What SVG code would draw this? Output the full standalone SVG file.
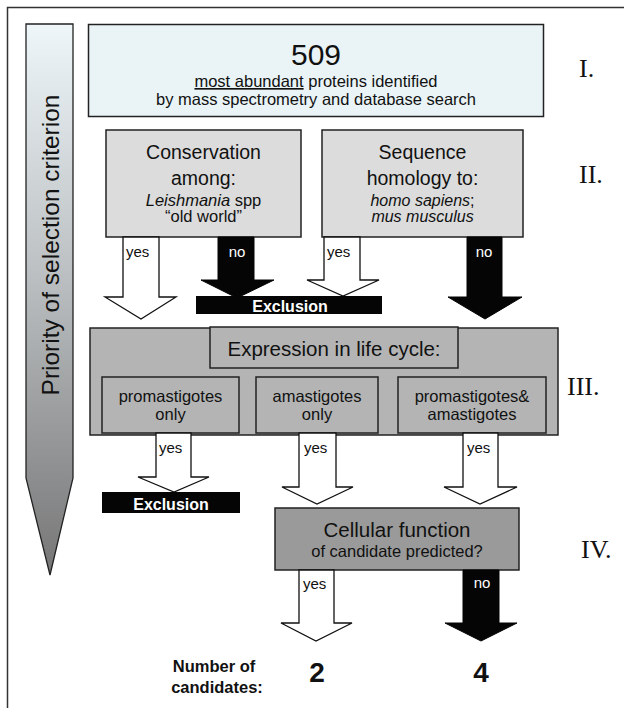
<svg xmlns="http://www.w3.org/2000/svg" width="624" height="708" viewBox="0 0 624 708">
<style>
.t{font-family:"Liberation Sans",Arial,sans-serif;fill:#111}
.c{text-anchor:middle}
.i{font-style:italic}
.b{font-weight:bold}
.box{stroke:#222;stroke-width:1.5}
.wa{fill:#fff;stroke:#111;stroke-width:1.3;stroke-linejoin:miter}
.ba{fill:#050505;stroke:#050505;stroke-width:1}
.lbl{font-size:15px}
.rom{font-family:"Liberation Serif","Times New Roman",serif;font-size:26px;fill:#111}
.excl{fill:#050505}
.wt{fill:#fff}
</style>
<defs>
<linearGradient id="prio" x1="0" y1="24" x2="0" y2="575" gradientUnits="userSpaceOnUse">
<stop offset="0" stop-color="#eef6f9"/>
<stop offset="0.45" stop-color="#bcc0c2"/>
<stop offset="1" stop-color="#767676"/>
</linearGradient>
</defs>
<path d="M7.5,708 V7.5 H624" fill="none" stroke="#333" stroke-width="1.5"/>
<g id="priority">
<path d="M26,24 H73 V478 L50,575 L26,478 Z" fill="url(#prio)" stroke="#222" stroke-width="1.3"/>
<text class="t" font-size="24.5" transform="translate(59,245) rotate(-90)" text-anchor="middle">Priority of selection criterion</text>
</g>
<g id="n509">
<rect class="box" x="88.5" y="24.5" width="455" height="92" fill="#eaf4f7"/>
<text class="t c" x="316" y="65" font-size="30">509</text>
<text class="t c" x="316" y="87" font-size="16.5"><tspan text-decoration="underline">most abundant</tspan> proteins identified</text>
<text class="t c" x="316" y="105" font-size="16.5">by mass spectrometry and database search</text>
</g>
<g id="conservation">
<rect class="box" x="106" y="130" width="195" height="107" fill="#dcdcdc"/>
<text class="t c" x="203.5" y="159" font-size="19.5">Conservation</text>
<text class="t c" x="203.5" y="185" font-size="19.5">among:</text>
<text class="t c" x="203.5" y="206" font-size="16.5"><tspan class="i">Leishmania</tspan> spp</text>
<text class="t c" x="203.5" y="222" font-size="16.5">“old world”</text>
</g>
<g id="homology">
<rect class="box" x="322" y="130" width="201" height="107" fill="#dcdcdc"/>
<text class="t c" x="422.5" y="159" font-size="19.5">Sequence</text>
<text class="t c" x="422.5" y="185" font-size="19.5">homology to:</text>
<text class="t c" x="422.5" y="206" font-size="16"><tspan class="i">homo sapiens</tspan>;</text>
<text class="t c i" x="422.5" y="222" font-size="16">mus musculus</text>
</g>
<g id="expression">
<rect class="box" x="90" y="328" width="468" height="107" fill="#b4b4b4" stroke-width="1.2"/>
<rect class="box" x="210" y="327" width="248" height="41" fill="#b4b4b4"/>
<text class="t c" x="334" y="356" font-size="20.5">Expression in life cycle:</text>
</g>
<g id="promastigotes">
<rect class="box" x="102" y="377" width="137" height="56" fill="#b4b4b4"/>
<text class="t c" x="170.5" y="402" font-size="16.5">promastigotes</text>
<text class="t c" x="170.5" y="420" font-size="16.5">only</text>
</g>
<g id="amastigotes">
<rect class="box" x="256" y="377" width="122" height="56" fill="#b4b4b4"/>
<text class="t c" x="317" y="402" font-size="16.5">amastigotes</text>
<text class="t c" x="317" y="420" font-size="16.5">only</text>
</g>
<g id="both">
<rect class="box" x="398" y="377" width="148" height="56" fill="#b4b4b4"/>
<text class="t c" x="472" y="402" font-size="16.5">promastigotes&amp;</text>
<text class="t c" x="472" y="420" font-size="16.5">amastigotes</text>
</g>
<g id="cellular">
<rect class="box" x="275" y="508" width="244" height="62" fill="#9a9a9a"/>
<text class="t c" x="397" y="537" font-size="20.5">Cellular function</text>
<text class="t c" x="397" y="557" font-size="16.5">of candidate predicted?</text>
</g>
<g id="connectors">
<path class="wa" d="M123,237 V297 H105 L141,319 L176,297 H159 V237 Z"/>
<path class="ba" d="M218,237 V280 H201 L237,298 L274,280 H254 V237 Z"/>
<path class="wa" d="M324,237 V280 H307 L343,296 L379,280 H360 V237 Z"/>
<path class="ba" d="M467,237 V297 H448 L485,319 L522,297 H502 V237 Z"/>
<path class="wa" d="M156,433 V477 H138 L174,492 L209,477 H191 V433 Z"/>
<path class="wa" d="M299,433 V487 H282 L317,504 L353,487 H336 V433 Z"/>
<path class="wa" d="M463,433 V487 H444 L480,504 L517,487 H498 V433 Z"/>
<path class="wa" d="M299,570 V623 H281 L316,641 L352,623 H334 V570 Z"/>
<path class="ba" d="M463,570 V623 H445 L481,641 L517,623 H499 V570 Z"/>
<text class="t lbl" x="126" y="257">yes</text>
<text class="t lbl c wt" x="237" y="257">no</text>
<text class="t lbl" x="327" y="257">yes</text>
<text class="t lbl c wt" x="484" y="257">no</text>
<text class="t lbl" x="159" y="453">yes</text>
<text class="t lbl" x="304" y="453">yes</text>
<text class="t lbl" x="467" y="453">yes</text>
<text class="t lbl" x="303" y="589">yes</text>
<text class="t lbl c wt" x="482" y="588">no</text>
</g>
<g id="exclusion1">
<rect class="excl" x="196" y="296" width="186" height="18"/>
<text class="t c b wt" x="290" y="311.5" font-size="16">Exclusion</text>
</g>
<g id="exclusion2">
<rect class="excl" x="102" y="492" width="138" height="21"/>
<text class="t c b wt" x="171" y="509.5" font-size="16">Exclusion</text>
</g>
<g id="counts">
<text class="t c b" x="214" y="672" font-size="16.5">Number of</text>
<text class="t c b" x="217" y="693" font-size="16.5">candidates:</text>
<text class="t c b" x="317" y="682" font-size="28">2</text>
<text class="t c b" x="481" y="682" font-size="28">4</text>
</g>
<g id="levels">
<text class="rom" x="579" y="77">I.</text>
<text class="rom" x="579" y="183">II.</text>
<text class="rom" x="567" y="395">III.</text>
<text class="rom" x="581" y="558">IV.</text>
</g>
</svg>
